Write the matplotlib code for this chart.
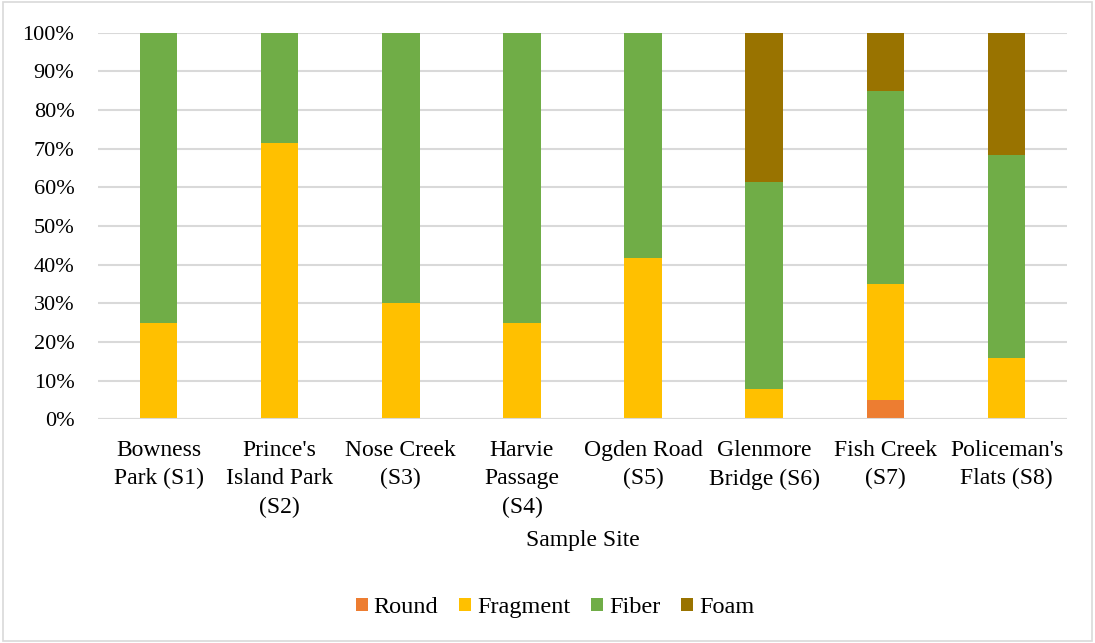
import matplotlib
matplotlib.use("Agg")
import matplotlib.pyplot as plt
from matplotlib.patches import Rectangle
from matplotlib.ticker import PercentFormatter

plt.rcParams['font.family'] = ['Liberation Serif', 'DejaVu Serif']

sites = ["Bowness\nPark (S1)", "Prince's\nIsland Park\n(S2)", "Nose Creek\n(S3)",
         "Harvie\nPassage\n(S4)", "Ogden Road\n(S5)", "Glenmore\nBridge (S6)",
         "Fish Creek\n(S7)", "Policeman's\nFlats (S8)"]
round_pct = [0, 0, 0, 0, 0, 0, 5.0, 0]
fragment_pct = [25.0, 71.4, 30.0, 25.0, 41.7, 7.7, 30.0, 15.8]
fiber_pct = [75.0, 28.6, 70.0, 75.0, 58.3, 53.8, 50.0, 52.6]
foam_pct = [0, 0, 0, 0, 0, 38.5, 15.0, 31.6]

series = [("Round", round_pct, "#ED7D31"),
          ("Fragment", fragment_pct, "#FFC000"),
          ("Fiber", fiber_pct, "#70AD47"),
          ("Foam", foam_pct, "#997300")]

fig = plt.figure(figsize=(10.95, 6.43), dpi=100)
ax = fig.add_axes([0.0895, 0.348, 0.885, 0.601])

x = list(range(len(sites)))
bottom = [0.0] * len(sites)
for name, vals, color in series:
    ax.bar(x, vals, width=0.31, bottom=bottom, color=color, label=name, zorder=3)
    bottom = [b + v for b, v in zip(bottom, vals)]

ax.set_xlim(-0.5, len(sites) - 0.5)
ax.set_ylim(0, 100)
ax.set_yticks(range(0, 101, 10))
ax.yaxis.set_major_formatter(PercentFormatter(decimals=0))
ax.grid(axis='y', color='#D9D9D9', linewidth=1.5, zorder=0)
for s in ax.spines.values():
    s.set_visible(False)
ax.axhline(0, color='#D9D9D9', linewidth=1.5, zorder=4)
ax.tick_params(axis='both', length=0)
ax.tick_params(axis='y', labelsize=16, pad=17)
ax.set_xticks(x)
ax.set_xticklabels(sites, fontsize=17, linespacing=1.45, va='top')
ax.tick_params(axis='x', pad=15)
ax.set_xlabel("Sample Site", fontsize=17, labelpad=9)

handles, labels = ax.get_legend_handles_labels()
fig.legend(handles, labels, loc='center', bbox_to_anchor=(0.507, 0.055), ncol=4,
           frameon=False, prop={'family': 'Liberation Serif', 'size': 17.5},
           handlelength=0.5, handleheight=0.5,
           handletextpad=0.25, columnspacing=0.85)

fig.patches.append(Rectangle((0.003, 0.003), 0.994, 0.994, transform=fig.transFigure,
                             fill=False, edgecolor='#D9D9D9', linewidth=1.2))

fig.savefig("out.png", dpi=100)
